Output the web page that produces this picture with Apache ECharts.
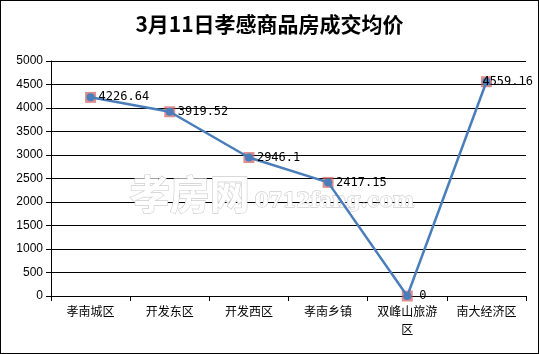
<!DOCTYPE html>
<html>
<head>
<meta charset="utf-8">
<script src="https://cdn.jsdelivr.net/npm/echarts@6/dist/echarts.min.js"></script>
<style>
  html, body { margin: 0; padding: 0; background: #fff; }
  #chart { width: 539px; height: 354px; box-sizing: border-box; border: 1px solid #000; }
</style>
</head>
<body>
<div id="chart"></div>
<script>
// 3月11日孝感商品房成交均价
var titleText = "3月11日孝感商品房成交均价";
var categories = ["孝南城区", "开发东区", "开发西区", "孝南乡镇", "双峰山旅游\n区", "南大经济区"];
var prices = [4226.64, 3919.52, 2946.1, 2417.15, 0, 4559.16];
var priceLabels = ["4226.64", "3919.52", "2946.1", "2417.15", "0", "4559.16"];

var myChart = echarts.init(document.getElementById("chart"));

// last label sits over its marker like the original
var lineData = prices.map(function (v, i) {
  var item = { value: v };
  if (i == prices.length - 1) {
    item.label = { offset: [-12, 0] };
  }
  if (v == 0) {
    item.label = { offset: [4, 0] };
  }
  return item;
});

var option = {
  animation: false,
  title: {
    text: titleText,
    left: "center",
    top: 8,
    textStyle: {
      fontFamily: "Noto Sans CJK SC",
      fontWeight: "bold",
      fontSize: 21,
      color: "#000"
    }
  },
  grid: {
    left: 50,
    right: 12,
    top: 60,
    bottom: 57,
    containLabel: false
  },
  graphic: [
    {
      type: "text",
      left: 128,
      top: 172,
      silent: true,
      z: 1,
      style: {
        text: "孝房网",
        font: "bold 40px 'Noto Sans CJK SC'",
        fill: "#fff",
        stroke: "#cfcfcf",
        lineWidth: 1.3
      }
    },
    {
      type: "text",
      left: 253,
      top: 190,
      silent: true,
      z: 1,
      style: {
        text: "0712fang.com",
        font: "bold 20px 'DejaVu Serif'",
        fill: "#fff",
        stroke: "#cfcfcf",
        lineWidth: 1.3
      }
    }
  ],
  xAxis: {
    type: "category",
    data: categories,
    boundaryGap: true,
    axisLine: { lineStyle: { color: "#000", width: 1 } },
    axisTick: { show: true, alignWithLabel: false, length: 5, lineStyle: { color: "#000" } },
    axisLabel: {
      color: "#000",
      fontSize: 12,
      fontFamily: "Noto Sans CJK SC",
      margin: 6,
      interval: 0,
      lineHeight: 18
    },
    splitLine: { show: false }
  },
  yAxis: {
    type: "value",
    min: 0,
    max: 5000,
    interval: 500,
    axisLine: { show: true, lineStyle: { color: "#000", width: 1 } },
    axisTick: { show: true, inside: false, length: 5, lineStyle: { color: "#000" } },
    axisLabel: {
      color: "#000",
      fontSize: 12,
      fontFamily: "Liberation Sans",
      margin: 8,
      formatter: function (v) { return String(v); }
    },
    splitLine: { show: true, lineStyle: { color: "#000", width: 1 } }
  },
  series: [
    {
      name: "底框",
      type: "scatter",
      data: prices,
      symbol: "rect",
      symbolSize: 11,
      itemStyle: { color: "rgba(205,90,90,0.85)" },
      z: 2,
      silent: true
    },
    {
      name: "成交均价",
      type: "line",
      data: lineData,
      symbol: "circle",
      symbolSize: 8,
      showAllSymbol: true,
      lineStyle: { color: "#4a7ebb", width: 2.5 },
      itemStyle: { color: "#4a7ebb", borderWidth: 0 },
      z: 3,
      label: {
        show: true,
        position: "right",
        distance: 4,
        color: "#000",
        fontSize: 12,
        fontFamily: "DejaVu Sans Mono",
        formatter: function (p) { return priceLabels[p.dataIndex]; }
      }
    }
  ]
};
myChart.setOption(option);
window.addEventListener("resize", function () {
  myChart.resize();
});
</script>
</body>
</html>
